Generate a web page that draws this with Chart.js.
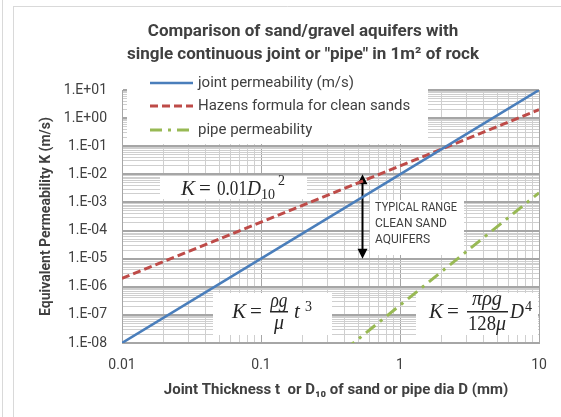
<!DOCTYPE html>
<html>
<head>
<meta charset="utf-8">
<script src="https://cdn.jsdelivr.net/npm/chart.js@4.4.1/dist/chart.umd.min.js"></script>
<style>
  html, body { margin: 0; padding: 0; background: #fff; }
  #wrap { width: 561px; height: 417px; position: relative; }
</style>
</head>
<body>
<div id="wrap"><canvas id="chart"></canvas></div>
<script>
// values
const thickness = [0.01, 0.1, 1, 10];              // mm
const jointK = [1e-8, 1e-5, 1e-2, 10];             // m/s
const hazenK = [2e-6, 2e-4, 2e-2, 2];              // m/s
const pipeDia = [0.1, 1, 10];                      // mm
const pipeK = [2.2e-11, 2.2e-7, 2.2e-3];           // m/s
const seriesNames = ["joint permeability (m/s)", "Hazens formula for clean sands", "pipe permeability"];

const xDecades = [0.01, 0.1, 1, 10];
const xTickLabels = ["0.01", "0.1", "1", "10"];
const yDecades = [1e-8, 1e-7, 1e-6, 1e-5, 1e-4, 1e-3, 1e-2, 1e-1, 1, 10];
const yTickLabels = ["1.E-08", "1.E-07", "1.E-06", "1.E-05", "1.E-04", "1.E-03", "1.E-02", "1.E-01", "1.E+00", "1.E+01"];

// typical range of clean sand aquifers (double arrow)
const rangeD = 0.53;
const rangeK = [1e-5, 1e-2];

const FONT = 'Roboto, "Open Sans", sans-serif';
const SERIF = '"Liberation Serif", "DejaVu Serif", serif';
const TXT = '#404040';

function near(a, b) { return Math.abs(a / b - 1) < 1e-6; }
function logTicks(decades) {
    const out = [];
    decades.forEach((d, i) => {
        out.push(d);
        if (i < decades.length - 1) {
            for (let m = 2; m <= 9; m++) out.push(+(m * d).toPrecision(3));
        }
    });
    return out;
}
function isMajor(v, decades) { return decades.some(d => near(v, d)); }

function toPoints(xs, ys) { return xs.map((x, i) => ({ x: x, y: ys[i] })); }

const datasets = [
    { label: seriesNames[0], data: toPoints(thickness, jointK), borderColor: "#4a7ebb", borderWidth: 2.5, borderDash: [] },
    { label: seriesNames[1], data: toPoints(thickness, hazenK), borderColor: "#be4b48", borderWidth: 3, borderDash: [8, 4] },
    { label: seriesNames[2], data: toPoints(pipeDia, pipeK), borderColor: "#98b954", borderWidth: 3, borderDash: [12, 6, 3, 6] }
];
datasets.forEach(d => { d.pointRadius = 0; d.fill = false; d.tension = 0; });

function whiteBox(ctx, x1, y1, x2, y2) {
    ctx.fillStyle = '#fff';
    ctx.fillRect(x1, y1, x2 - x1, y2 - y1);
}
// serif formula piece, squeezed to the width seen in the picture
function put(ctx, text, x, y, size, italic, w) {
    ctx.font = (italic ? 'italic ' : '') + size + 'px ' + SERIF;
    if (w) ctx.fillText(text, x, y, w); else ctx.fillText(text, x, y);
}

const decor = {
    id: 'decor',
    beforeDraw(chart) {
        const ctx = chart.ctx;
        ctx.save();
        ctx.fillStyle = '#fff';
        ctx.fillRect(0, 0, chart.width, chart.height);
        ctx.strokeStyle = '#d9d9d9';
        ctx.lineWidth = 1;
        ctx.beginPath();
        ctx.moveTo(2.5, 0); ctx.lineTo(2.5, chart.height);
        ctx.moveTo(13.5, 6); ctx.lineTo(13.5, chart.height);
        ctx.moveTo(13.5, 6.5); ctx.lineTo(chart.width, 6.5);
        ctx.stroke();
        ctx.restore();
    },
    beforeDatasetsDraw(chart) {
        const ctx = chart.ctx;
        const xs = chart.scales.x, ys = chart.scales.y;
        ctx.save();
        // legend and text boxes
        whiteBox(ctx, 127, 72, 428, 144);
        whiteBox(ctx, 160, 176, 307, 199);
        whiteBox(ctx, 370, 200, 464, 255);
        whiteBox(ctx, 213, 293, 332, 335);
        whiteBox(ctx, 416, 293, 538, 335);

        ctx.fillStyle = '#262626';
        ctx.textBaseline = 'alphabetic';
        ctx.textAlign = 'left';
        // K = 0.01 D10^2
        put(ctx, 'K', 181, 195, 21, true, 14);
        put(ctx, '=', 199, 195, 21, false, 12);
        put(ctx, '0.01', 217, 195, 21, false, 30);
        put(ctx, 'D', 247, 195, 21, true, 14);
        put(ctx, '10', 261, 199, 15, false, 14);
        put(ctx, '2', 278, 185, 15, false, 7);

        // K = rho g / mu t^3
        put(ctx, 'K', 232, 318, 21, true, 14);
        put(ctx, '=', 250, 318, 21, false, 12);
        ctx.textAlign = 'center';
        put(ctx, 'ρg', 279, 307, 21, true, 17);
        put(ctx, 'μ', 279, 329, 21, true, 10);
        ctx.textAlign = 'left';
        put(ctx, 't', 294, 318, 21, true, 8);
        put(ctx, '3', 305, 311, 15, false, 7);
        ctx.fillRect(270, 311, 18, 1.5);

        // K = pi rho g / (128 mu) D^4
        put(ctx, 'K', 429, 318, 21, true, 14);
        put(ctx, '=', 447, 318, 21, false, 12);
        ctx.textAlign = 'center';
        put(ctx, 'πρg', 487, 305, 21, true, 30);
        ctx.textAlign = 'left';
        put(ctx, '128', 468, 330, 21, false, 28);
        put(ctx, 'μ', 496, 330, 21, true, 10);
        put(ctx, 'D', 510, 318, 21, true, 14);
        put(ctx, '4', 525, 311, 15, false, 7);
        ctx.fillRect(467, 311, 41, 1.5);

        // typical range text
        ctx.fillStyle = TXT;
        ctx.font = '12px ' + FONT;
        ctx.textBaseline = 'middle';
        ['TYPICAL RANGE', 'CLEAN SAND', 'AQUIFERS'].forEach((t, i) => {
            ctx.fillText(t, 375, 208 + i * 16, 82);
        });

        // double arrow
        const ax = Math.round(xs.getPixelForValue(rangeD)) + 0.5;
        const yTop = ys.getPixelForValue(rangeK[1]);
        const yBot = ys.getPixelForValue(rangeK[0]);
        ctx.strokeStyle = '#000';
        ctx.fillStyle = '#000';
        ctx.lineWidth = 2;
        ctx.beginPath();
        ctx.moveTo(ax, yTop + 8); ctx.lineTo(ax, yBot - 8);
        ctx.stroke();
        ctx.beginPath();
        ctx.moveTo(ax, yTop); ctx.lineTo(ax - 5, yTop + 10); ctx.lineTo(ax + 5, yTop + 10); ctx.closePath();
        ctx.moveTo(ax, yBot); ctx.lineTo(ax - 5, yBot - 10); ctx.lineTo(ax + 5, yBot - 10); ctx.closePath();
        ctx.fill();
        ctx.restore();
    },
    afterDraw(chart) {
        const ctx = chart.ctx;
        ctx.save();
        // title
        ctx.fillStyle = TXT;
        ctx.textAlign = 'center';
        ctx.textBaseline = 'middle';
        ctx.font = 'bold 17px ' + FONT;
        ctx.fillText('Comparison of sand/gravel aquifers with', 303, 32, 312);
        ctx.fillText('single continuous joint or "pipe" in 1m² of rock', 303, 55, 360);

        // x axis title
        ctx.font = 'bold 15px ' + FONT;
        ctx.fillText('Joint Thickness t  or D₁₀ of sand or pipe dia D (mm)', 336, 390, 350);

        // legend
        ctx.textAlign = 'left';
        ctx.font = '15px ' + FONT;
        const rows = [83, 106, 130];
        chart.data.datasets.forEach((ds, i) => {
            ctx.strokeStyle = ds.borderColor;
            ctx.lineWidth = ds.borderWidth;
            ctx.setLineDash(ds.borderDash);
            ctx.beginPath();
            ctx.moveTo(150, rows[i]); ctx.lineTo(193, rows[i]);
            ctx.stroke();
            ctx.setLineDash([]);
            ctx.fillStyle = TXT;
            ctx.fillText(ds.label, 198, rows[i]);
        });
        ctx.restore();
    }
};

new Chart(document.getElementById('chart'), {
    type: 'line',
    data: { datasets: datasets },
    options: {
        responsive: true,
        maintainAspectRatio: false,
        animation: false,
        events: [],
        layout: { padding: { top: 90, right: 22, left: 0, bottom: 0 } },
        plugins: { legend: { display: false }, title: { display: false }, tooltip: { enabled: false } },
        scales: {
            x: {
                type: 'logarithmic', min: 0.01, max: 10,
                afterBuildTicks: s => { s.ticks = logTicks(xDecades).map(v => ({ value: v })); },
                afterFit: s => { s.height = 74; },
                grid: {
                    drawTicks: false,
                    color: c => isMajor(c.tick.value, xDecades) ? '#a6a6a6' : '#cfcfcf',
                    lineWidth: 1
                },
                border: { color: '#a6a6a6', width: 1 },
                ticks: {
                    autoSkip: false, maxRotation: 0, padding: 14, color: TXT,
                    font: { family: FONT, size: 14 },
                    callback: v => {
                        const i = xDecades.findIndex(d => near(v, d));
                        return i >= 0 ? xTickLabels[i] : '';
                    }
                },
                title: { display: false }
            },
            y: {
                type: 'logarithmic', min: 1e-8, max: 10,
                afterBuildTicks: s => { s.ticks = logTicks(yDecades).map(v => ({ value: v })); },
                afterFit: s => { s.width = 122; },
                grid: {
                    drawTicks: false,
                    color: c => isMajor(c.tick.value, yDecades) ? '#a6a6a6' : '#cfcfcf',
                    lineWidth: c => isMajor(c.tick.value, yDecades) ? 2 : 1
                },
                border: { color: '#a6a6a6', width: 1 },
                ticks: {
                    autoSkip: false, padding: 15, color: TXT,
                    font: { family: FONT, size: 14 },
                    callback: v => {
                        const i = yDecades.findIndex(d => near(v, d));
                        return i >= 0 ? yTickLabels[i] : '';
                    }
                },
                title: {
                    display: true, text: 'Equivalent Permeability K (m/s)',
                    color: TXT, font: { family: FONT, size: 14, weight: 'bold' },
                    padding: { top: 38, bottom: 0 }
                }
            }
        }
    },
    plugins: [decor]
});
</script>
</body>
</html>
